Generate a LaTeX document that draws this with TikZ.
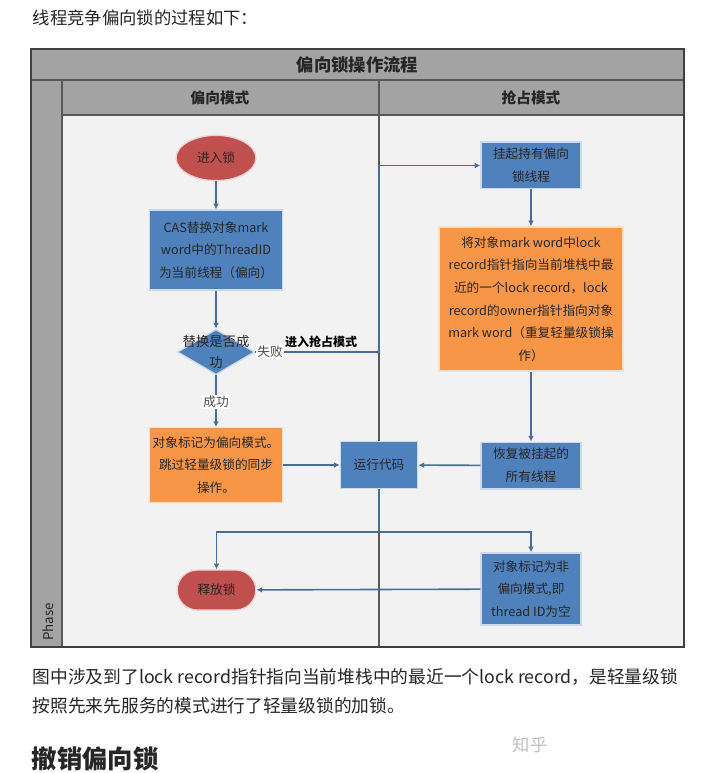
\documentclass[tikz,border=0pt]{standalone}
\usepackage{fontspec}
\setmainfont{Noto Sans CJK SC}
\usetikzlibrary{arrows.meta,shapes.geometric}
\definecolor{boxblue}{HTML}{4F81BD}
\definecolor{boxorange}{HTML}{F79646}
\definecolor{boxred}{HTML}{C0504D}
\definecolor{conn}{HTML}{4A6C9B}
\definecolor{band}{HTML}{A3A3A3}
\definecolor{lane}{HTML}{F2F2F2}

\begin{document}
\begin{tikzpicture}[x=0.75pt, y=-0.75pt, >={Latex[length=1.5mm,width=1.5mm]},
	every node/.style={font=\fontsize{9.5}{17}\selectfont, text=black!85},
	bluebox/.style={rectangle, draw=boxblue!30, line width=1pt, fill=boxblue, align=center, inner sep=0pt},
	orangebox/.style={rectangle, draw=boxorange!30, line width=1pt, fill=boxorange, align=center, inner sep=0pt},
	terminal/.style={draw=boxred!25, line width=1pt, fill=boxred, inner sep=0pt},
	flow/.style={draw=conn, line width=1.2pt},
	lbl/.style={fill=white, inner sep=1pt, text=black!70}]
	\useasboundingbox (0,0) rectangle (708,773);
	\fill[white] (0,0) rectangle (708,773);
	\node[anchor=west, font=\fontsize{13}{13}\selectfont] (intro) at (28,18) {线程竞争偏向锁的过程如下：};
	\fill[band] (31,49) rectangle (684,115);
	\fill[band] (31,115) rectangle (62,647);
	\fill[lane] (62,115) rectangle (684,647);
	\draw[black!65, line width=0.8pt] (31,80) -- (684,80) (62,115) -- (684,115) (62,80) -- (62,647) (379,80) -- (379,647);
	\draw[black!75, line width=1pt] (31,49) rectangle (684,647);
	\node[font=\bfseries\fontsize{13}{13}\selectfont] (title) at (357.5,65) {偏向锁操作流程};
	\node[font=\bfseries\fontsize{11}{11}\selectfont] (left) at (220,98) {偏向模式};
	\node[font=\bfseries\fontsize{11}{11}\selectfont] (right) at (531,98) {抢占模式};
	\node[rotate=90, font=\fontsize{10}{10}\selectfont] (phase) at (48,622) {Phase};

	\node[terminal, ellipse, minimum width=60pt, minimum height=34pt] (enter) at (216,158) {进入锁};
	\node[bluebox, minimum width=100pt, minimum height=60pt] (cas) at (216,250) {CAS替换对象mark\\word中的ThreadID\\为当前线程（偏向）};
	\node[diamond, fill=boxblue, draw=boxblue!30, line width=1pt, inner sep=0pt, minimum width=58pt, minimum height=34pt] (check) at (216,352) {};
	\node[align=center, font=\fontsize{10}{16}\selectfont] (checktext) at (216,352) {替换是否成\\功};
	\node[orangebox, minimum width=100pt, minimum height=56pt] (biased) at (216,465) {对象标记为偏向模式。\\跳过轻量级锁的同步\\操作。};
	\node[bluebox, minimum width=58pt, minimum height=35pt] (run) at (379,465) {运行代码};
	\node[terminal, rectangle, rounded corners=15pt, minimum width=59pt, minimum height=30pt] (release) at (216.5,590) {释放锁};
	\node[bluebox, minimum width=75pt, minimum height=35pt] (suspend) at (531,165.5) {挂起持有偏向\\锁线程};
	\node[orangebox, minimum width=138pt, minimum height=108pt] (owner) at (531,299) {将对象mark word中lock\\record指针指向当前堆栈中最\\近的一个lock record，lock\\record的owner指针指向对象\\mark word（重复轻量级锁操\\作）};
	\node[bluebox, minimum width=75pt, minimum height=35pt] (resume) at (531,465.5) {恢复被挂起的\\所有线程};
	\node[bluebox, minimum width=75pt, minimum height=54pt] (unbiased) at (531,589) {对象标记为非\\偏向模式,即\\thread ID为空};
	\coordinate (split) at (379,532);

	\draw[flow, ->] (enter) -- (cas);
	\draw[flow, ->] (cas) -- (check);
	\draw[flow, ->] (check) -- (biased);
	\draw[flow, ->] (check.east) -- (check.east -| run.north) |- (suspend.west);
	\draw[flow, ->] (suspend) -- (owner);
	\draw[flow, ->] (owner) -- (resume);
	\draw[flow, ->] (resume) -- (run);
	\draw[flow, ->] (biased) -- (run);
	\draw[flow] (run) -- (split);
	\draw[flow, ->] (split) -| (release.north);
	\draw[flow, ->] (split) -| (unbiased.north);
	\draw[flow, ->] (unbiased) -- (release);
	\node[lbl] (fail) at (270,352) {失败};
	\node[lbl] (ok) at (216,402) {成功};
	\node[font=\bfseries\fontsize{9}{9}\selectfont, text=black] (preempt) at (321,342) {进入抢占模式};

	\node[anchor=west, font=\fontsize{13.3}{13}\selectfont] (note1) at (28,677) {图中涉及到了lock record指针指向当前堆栈中的最近一个lock record，是轻量级锁};
	\node[anchor=west, font=\fontsize{13.3}{13}\selectfont] (note2) at (28,706) {按照先来先服务的模式进行了轻量级锁的加锁。};
	\node[anchor=west, text=black!25, font=\fontsize{13}{13}\selectfont] (mark) at (508,745) {知乎};
	\node[anchor=west, font=\bfseries\fontsize{19}{19}\selectfont] (heading) at (27,759) {撤销偏向锁};
\end{tikzpicture}
\end{document}
